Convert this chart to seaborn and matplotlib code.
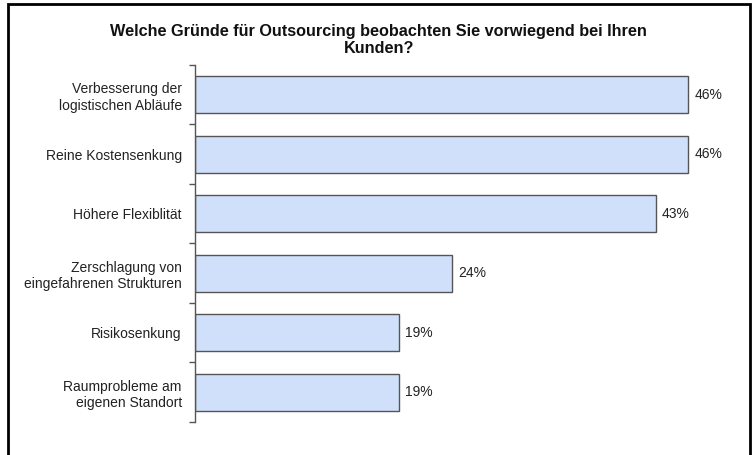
import matplotlib
matplotlib.use('Agg')
import matplotlib.pyplot as plt
import matplotlib.patches as patches
import pandas as pd
import seaborn as sns

reasons = ['Verbesserung der\nlogistischen Abläufe',
           'Reine Kostensenkung',
           'Höhere Flexiblität',
           'Zerschlagung von\neingefahrenen Strukturen',
           'Risikosenkung',
           'Raumprobleme am\neigenen Standort']
shares = [46, 46, 43, 24, 19, 19]

df = pd.DataFrame({'reason': reasons, 'share': shares})

sns.set_style('white')
plt.rcParams['font.family'] = ['Liberation Sans', 'DejaVu Sans']

fig = plt.figure(figsize=(7.53, 4.55), dpi=100)
ax = fig.add_axes([0.259, 0.0725, 0.712, 0.785])

sns.barplot(data=df, x='share', y='reason', orient='h', ax=ax,
            color='#d0e0fa', saturation=1, width=0.62,
            edgecolor='#555555', linewidth=1)

ax.set_xlim(0, 50)
ax.set_xlabel('')
ax.set_ylabel('')
ax.set_xticks([])
for s in ['top', 'right', 'bottom']:
    ax.spines[s].set_visible(False)
ax.spines['left'].set_color('#555555')
ax.spines['left'].set_linewidth(1)

ax.tick_params(axis='y', which='major', length=0, pad=9.5, labelsize=10,
               labelcolor='#222222')
ax.set_yticks([i - 0.5 for i in range(len(reasons) + 1)], minor=True)
ax.tick_params(axis='y', which='minor', length=4, width=1, color='#555555',
               direction='out', left=True)
for lbl in ax.get_yticklabels():
    lbl.set_linespacing(1.22)

for i, v in enumerate(shares):
    ax.text(v + 0.55, i, f'{v}%', va='center', ha='left', fontsize=10,
            color='#222222')

fig.text(0.503, 0.912, 'Welche Gründe für Outsourcing beobachten Sie vorwiegend bei Ihren\nKunden?',
         ha='center', va='center', fontsize=11.7, fontweight='bold',
         color='#111111', linespacing=1.15)

# frame around the chart
fig.patches.append(patches.Rectangle((8 / 753, -0.05), 742 / 753, 1.05 - 4 / 455,
                                     transform=fig.transFigure, fill=False,
                                     edgecolor='black', linewidth=2))

fig.savefig('out.png', dpi=100)
